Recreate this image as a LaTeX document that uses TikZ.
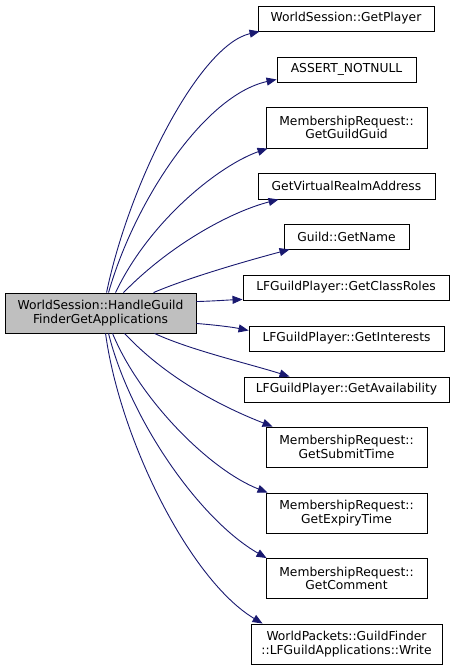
\documentclass[tikz,border=0pt]{standalone}
\usepackage{fontspec}
\setmainfont{DejaVu Sans}
\usetikzlibrary{arrows.meta}
\definecolor{edgeblue}{HTML}{191970}
\definecolor{maingray}{HTML}{BFBFBF}
\begin{document}
\begin{tikzpicture}[x=1pt,y=-1pt,
  box/.style={draw=black, line width=0.9pt, fill=white, inner sep=0pt, align=center,
    font=\fontsize{12.3}{13.5}\selectfont},
  call/.style={draw=edgeblue, line width=0.9pt, -{Triangle[length=10pt,width=8pt,fill=edgeblue]}}]
\useasboundingbox (0,0) rectangle (455,670);

\node[box, fill=maingray, minimum width=191pt, minimum height=40pt] (main) at (100.5,313) {WorldSession::HandleGuild\\FinderGetApplications};

\node[box, minimum width=176pt, minimum height=25pt] (n1) at (346,18.5) {WorldSession::GetPlayer};
\node[box, minimum width=139pt, minimum height=25pt] (n2) at (346.5,69.5) {ASSERT\_NOTNULL};
\node[box, minimum width=161pt, minimum height=41pt] (n3) at (346.5,127.5) {MembershipRequest::\\GetGuildGuid};
\node[box, minimum width=177pt, minimum height=26pt] (n4) at (346.5,186) {GetVirtualRealmAddress};
\node[box, minimum width=125pt, minimum height=25pt] (n5) at (346.5,236.5) {Guild::GetName};
\node[box, minimum width=206pt, minimum height=25pt] (n6) at (346,287.5) {LFGuildPlayer::GetClassRoles};
\node[box, minimum width=195pt, minimum height=25pt] (n7) at (346.5,338.5) {LFGuildPlayer::GetInterests};
\node[box, minimum width=205pt, minimum height=25pt] (n8) at (346.5,389.5) {LFGuildPlayer::GetAvailability};
\node[box, minimum width=161pt, minimum height=40pt] (n9) at (346.5,447) {MembershipRequest::\\GetSubmitTime};
\node[box, minimum width=161pt, minimum height=40pt] (n10) at (346.5,513) {MembershipRequest::\\GetExpiryTime};
\node[box, minimum width=161pt, minimum height=40pt] (n11) at (346.5,578.5) {MembershipRequest::\\GetComment};
\node[box, minimum width=191pt, minimum height=40pt] (n12) at (346.5,644) {WorldPackets::GuildFinder\\::LFGuildApplications::Write};

\draw[call] ([xshift=102pt]main.north west) .. controls (130,180) and (200,45) .. ([xshift=2pt]n1.south west);
\draw[call] ([xshift=104pt]main.north west) .. controls (135,200) and (205,95) .. ([yshift=3pt]n2.south west);
\draw[call] ([xshift=111pt]main.north west) .. controls (150,220) and (220,165) .. ([xshift=2pt]n3.south west);
\draw[call] ([xshift=119pt]main.north west) .. controls (170,245) and (230,212) .. ([xshift=21pt]n4.south west);
\draw[call] ([xshift=149pt]main.north west) .. controls (190,277) and (250,260) .. ([xshift=6pt]n5.south west);
\draw[call] ([yshift=-9pt]main.north east) .. controls (215,301) and (228,300) .. ([yshift=1pt]n6.south west);
\draw[call] ([yshift=10pt]main.south east) .. controls (215,325) and (232,327) .. ([yshift=8pt]n7.west);
\draw[call] ([xshift=150pt]main.south west) .. controls (190,350) and (250,364) .. ([xshift=46pt]n8.north west);
\draw[call] ([xshift=120pt]main.south west) .. controls (170,382) and (230,410) .. ([xshift=7pt]n9.north west);
\draw[call] ([xshift=108pt]main.south west) .. controls (140,400) and (210,470) .. ([xshift=2pt]n10.north west);
\draw[call] ([xshift=104pt]main.south west) .. controls (130,420) and (200,520) .. ([xshift=1pt]n11.north west);
\draw[call] ([xshift=101pt]main.south west) .. controls (120,440) and (190,580) .. ([xshift=12pt]n12.north west);
\end{tikzpicture}
\end{document}
